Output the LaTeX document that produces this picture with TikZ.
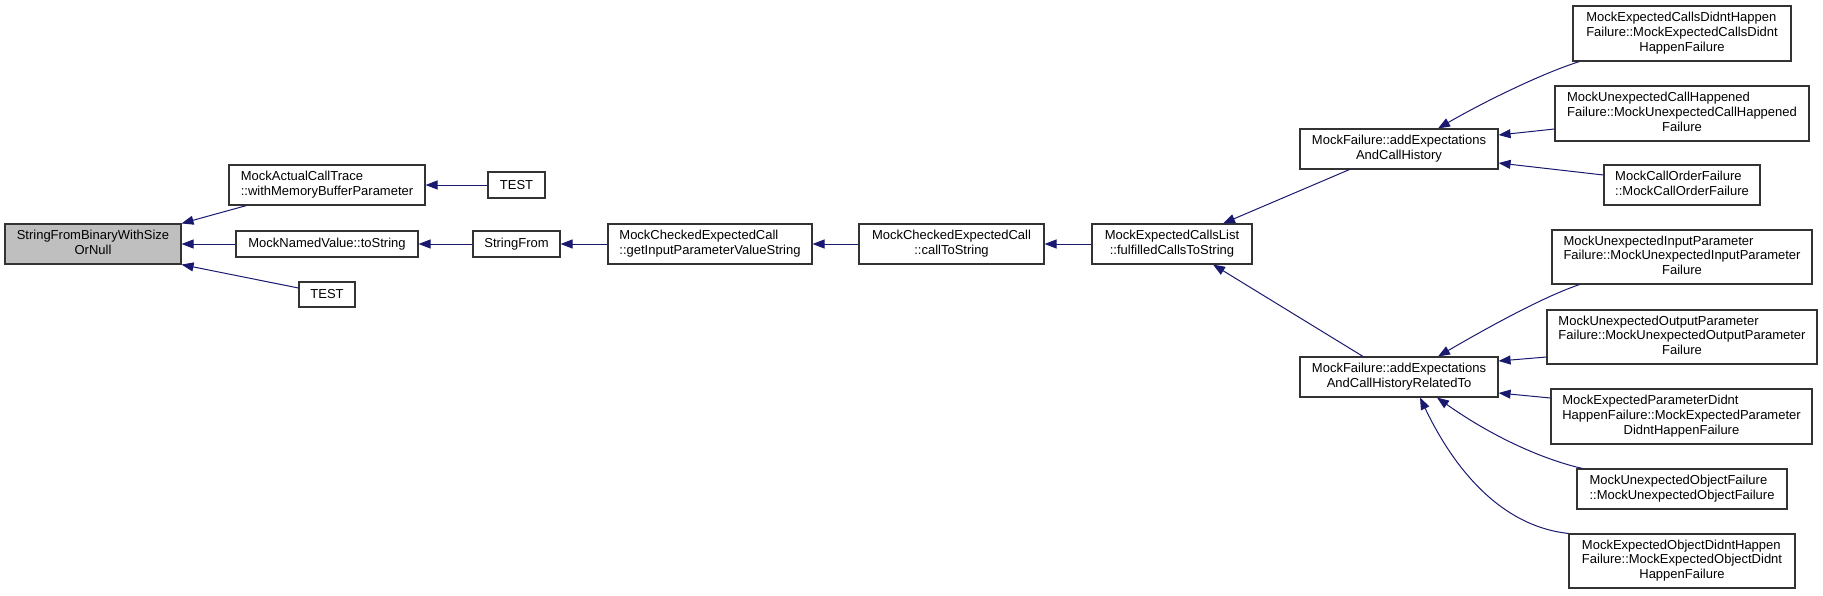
\documentclass[tikz,border=0pt]{standalone}
\usepackage{fontspec}
\setmainfont{Liberation Sans}
\usetikzlibrary{arrows.meta}
\definecolor{edgeblue}{HTML}{191970}
\definecolor{rootgray}{HTML}{BFBFBF}
\newcommand\twol[2]{\begin{tabular}{@{}l@{}}#1\\\multicolumn{1}{@{}c@{}}{#2}\end{tabular}}
\newcommand\threel[3]{\begin{tabular}{@{}l@{}}#1\\#2\\\multicolumn{1}{@{}c@{}}{#3}\end{tabular}}
\tikzset{
  fnbox/.style={draw=black!80, line width=1.1pt, fill=white, rectangle, inner sep=0pt,
    font=\fontsize{13}{14.7}\selectfont, align=center},
  rootbox/.style={fnbox, fill=rootgray},
  edge/.style={draw=edgeblue, line width=1pt, {Triangle[length=12pt,width=9pt]}-},
}
\begin{document}
\begin{tikzpicture}[x=1pt,y=-1pt]
\useasboundingbox (0,0) rectangle (1823,595);
% nodes
\node[rootbox, minimum width=176pt, minimum height=40pt] (n0) at (93,244) {\twol{StringFromBinaryWithSize}{OrNull}};
\node[fnbox, minimum width=196pt, minimum height=40pt] (n1) at (327,185) {\twol{MockActualCallTrace}{::withMemoryBufferParameter}};
\node[fnbox, minimum width=57pt, minimum height=26pt] (n2) at (516.5,185) {TEST};
\node[fnbox, minimum width=182pt, minimum height=26pt] (n3) at (327,244) {MockNamedValue::toString};
\node[fnbox, minimum width=56pt, minimum height=25pt] (n4) at (327,294.5) {TEST};
\node[fnbox, minimum width=87pt, minimum height=26pt] (n5) at (516.5,244) {StringFrom};
\node[fnbox, minimum width=204pt, minimum height=40pt] (n6) at (710,244) {\twol{MockCheckedExpectedCall}{::getInputParameterValueString}};
\node[fnbox, minimum width=185pt, minimum height=40pt] (n7) at (951.5,244) {\twol{MockCheckedExpectedCall}{::callToString}};
\node[fnbox, minimum width=160pt, minimum height=40pt] (n8) at (1172,244) {\twol{MockExpectedCallsList}{::fulfilledCallsToString}};
\node[fnbox, minimum width=198pt, minimum height=40pt] (n9) at (1399,149) {\twol{MockFailure::addExpectations}{AndCallHistory}};
\node[fnbox, minimum width=198pt, minimum height=40pt] (n10) at (1399,377) {\twol{MockFailure::addExpectations}{AndCallHistoryRelatedTo}};
\node[fnbox, minimum width=218pt, minimum height=55pt] (n11) at (1682,33.5) {\threel{MockExpectedCallsDidntHappen}{Failure::MockExpectedCallsDidnt}{HappenFailure}};
\node[fnbox, minimum width=254pt, minimum height=55pt] (n12) at (1682,113.5) {\threel{MockUnexpectedCallHappened}{Failure::MockUnexpectedCallHappened}{Failure}};
\node[fnbox, minimum width=156pt, minimum height=40pt] (n13) at (1682,185) {\twol{MockCallOrderFailure}{::MockCallOrderFailure}};
\node[fnbox, minimum width=260pt, minimum height=54pt] (n14) at (1682,257) {\threel{MockUnexpectedInputParameter}{Failure::MockUnexpectedInputParameter}{Failure}};
\node[fnbox, minimum width=270pt, minimum height=54pt] (n15) at (1682,337) {\threel{MockUnexpectedOutputParameter}{Failure::MockUnexpectedOutputParameter}{Failure}};
\node[fnbox, minimum width=261pt, minimum height=55pt] (n16) at (1681.5,416.5) {\threel{MockExpectedParameterDidnt}{HappenFailure::MockExpectedParameter}{DidntHappenFailure}};
\node[fnbox, minimum width=210pt, minimum height=40pt] (n17) at (1682,489) {\twol{MockUnexpectedObjectFailure}{::MockUnexpectedObjectFailure}};
\node[fnbox, minimum width=226pt, minimum height=54pt] (n18) at (1682,561) {\threel{MockExpectedObjectDidntHappen}{Failure::MockExpectedObjectDidnt}{HappenFailure}};
% edges
\draw[edge] (n0.north east) -- ([xshift=18pt]n1.south west);
\draw[edge] (n0.east) -- (n3.west);
\draw[edge] (n0.south east) -- ([yshift=6.5pt]n4.west);
\draw[edge] (n1.east) -- (n2.west);
\draw[edge] (n3.east) -- (n5.west);
\draw[edge] (n5.east) -- (n6.west);
\draw[edge] (n6.east) -- (n7.west);
\draw[edge] (n7.east) -- (n8.west);
\draw[edge] ([xshift=51pt]n8.north) -- ([xshift=50pt]n9.south west);
\draw[edge] ([xshift=41pt]n8.south) -- ([xshift=-36pt]n10.north);
\draw[edge] ([xshift=39pt]n9.north) .. controls (1480,104) and (1540,74) .. ([xshift=7pt]n11.south west);
\draw[edge] ([yshift=14pt]n9.east) -- ([yshift=-15.5pt]n12.west);
\draw[edge] ([yshift=-14pt]n9.east) -- ([yshift=10pt]n13.west);
\draw[edge] ([xshift=39pt]n10.north) .. controls (1480,332) and (1540,298) .. ([xshift=28pt]n14.south west);
\draw[edge] ([yshift=16pt]n10.east) -- ([yshift=-20pt]n15.west);
\draw[edge] ([yshift=-16pt]n10.east) -- ([yshift=18.5pt]n16.west);
\draw[edge] ([xshift=38pt]n10.south) .. controls (1494,438) and (1545,460) .. ([xshift=6pt]n17.north west);
\draw[edge] ([xshift=21pt]n10.south) .. controls (1445,450) and (1490,525) .. (n18.north west);
\end{tikzpicture}
\end{document}
